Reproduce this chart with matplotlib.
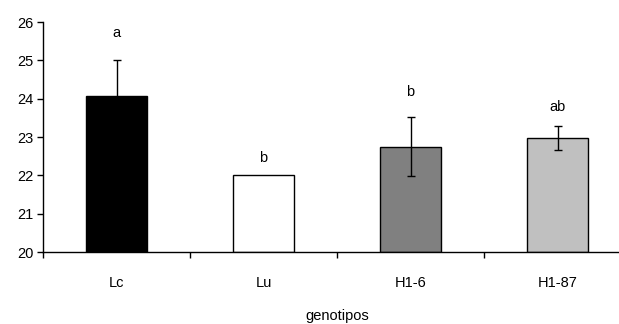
import matplotlib
matplotlib.use("Agg")
import matplotlib.pyplot as plt
import numpy as np

categories = ["Lc", "Lu", "H1-6", "H1-87"]
values = [24.08, 22.02, 22.75, 22.97]
errors = [0.92, 0.0, 0.77, 0.32]
letters = ["a", "b", "b", "ab"]
letter_y = [25.71, 22.45, 24.17, 23.78]
colors = ["#000000", "#ffffff", "#808080", "#c0c0c0"]

plt.rcParams["font.family"] = ["Liberation Sans", "DejaVu Sans"]
dpi = 100
fs = 10.5
fig = plt.figure(figsize=(619 / dpi, 324 / dpi), dpi=dpi)
ax = fig.add_axes([43 / 619, 72 / 324, 588 / 619, 230 / 324])

x = np.arange(len(categories))
ax.bar(x, np.array(values) - 20, bottom=20, width=0.41, color=colors,
       edgecolor="black", linewidth=1.0, zorder=2)
for xi, v, e in zip(x, values, errors):
    if e > 0:
        ax.errorbar(xi, v, yerr=e, fmt="none", ecolor="black", elinewidth=1.0,
                    capsize=3.2, capthick=1.0, zorder=3)
for xi, t, ly in zip(x, letters, letter_y):
    ax.text(xi, ly, t, ha="center", va="center", fontsize=fs)

ax.set_xlim(-0.5, len(categories) - 0.5)
ax.set_ylim(20, 26)
ax.set_yticks(np.arange(20, 27, 1))
ax.set_xticks(np.arange(-0.5, len(categories), 1.0))
ax.set_xticklabels([])
ax.set_xticks(x, minor=True)
ax.set_xticklabels(categories, minor=True)
ax.tick_params(axis="x", which="minor", length=0, pad=17, labelsize=fs)
ax.tick_params(axis="x", which="major", length=4, width=1, direction="out")
ax.tick_params(axis="y", length=4, width=1, direction="out", labelsize=fs, pad=3)
ax.spines["top"].set_visible(False)
ax.spines["right"].set_visible(False)
for s in ["left", "bottom"]:
    ax.spines[s].set_linewidth(1.0)
ax.set_xlabel("genotipos", fontsize=fs, labelpad=14)
fig.savefig("out.png", dpi=dpi)
